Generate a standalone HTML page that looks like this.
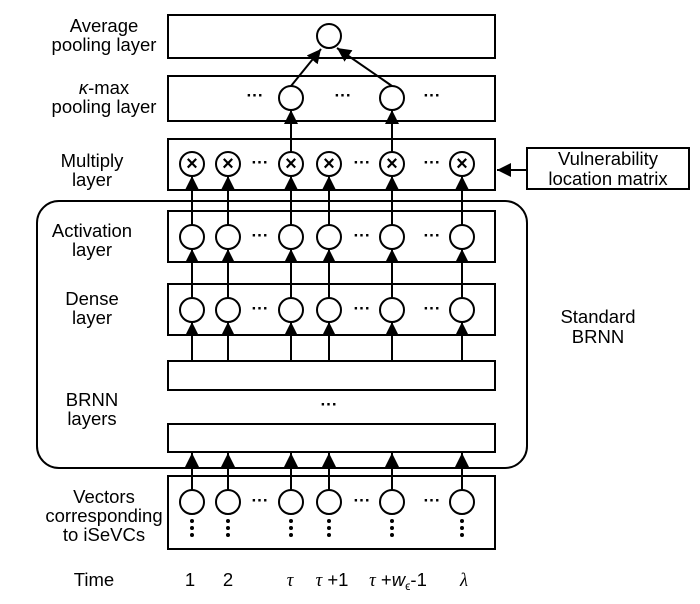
<!DOCTYPE html>
<html><head><style>body{margin:0;background:#fff}svg{display:block}</style></head><body>
<svg width="700" height="604" viewBox="0 0 700 604" xmlns="http://www.w3.org/2000/svg" font-family="Liberation Sans, DejaVu Sans, sans-serif">
<defs><marker id="a" markerWidth="14" markerHeight="14" refX="14" refY="7" orient="auto" markerUnits="userSpaceOnUse"><path d="M0,0 L14,7 L0,14 z" fill="#000"/></marker></defs>
<g fill="none" stroke="#000" stroke-width="2">
<rect x="168" y="15" width="327" height="43"/>
<rect x="168" y="76" width="327" height="45"/>
<rect x="168" y="139" width="327" height="51"/>
<rect x="168" y="211" width="327" height="51"/>
<rect x="168" y="284" width="327" height="51"/>
<rect x="168" y="361" width="327" height="29"/>
<rect x="168" y="424" width="327" height="28"/>
<rect x="168" y="476" width="327" height="73"/>
<rect x="37" y="201" width="490" height="267" rx="22"/>
<rect x="527" y="148" width="162" height="41"/>
<circle cx="329" cy="36" r="12"/>
<circle cx="291" cy="98" r="12"/><circle cx="392" cy="98" r="12"/>
<line x1="291" y1="86" x2="321" y2="49" marker-end="url(#a)"/>
<line x1="392" y1="86" x2="337" y2="48" marker-end="url(#a)"/>
<line x1="527" y1="170" x2="497" y2="170" marker-end="url(#a)"/>
</g>
<g fill="none" stroke="#000" stroke-width="2">
<g><circle cx="192" cy="164" r="12"/><circle cx="228" cy="164" r="12"/><circle cx="291" cy="164" r="12"/><circle cx="329" cy="164" r="12"/><circle cx="392" cy="164" r="12"/><circle cx="462" cy="164" r="12"/></g>
<g><circle cx="192" cy="237" r="12"/><circle cx="228" cy="237" r="12"/><circle cx="291" cy="237" r="12"/><circle cx="329" cy="237" r="12"/><circle cx="392" cy="237" r="12"/><circle cx="462" cy="237" r="12"/></g>
<g><circle cx="192" cy="310" r="12"/><circle cx="228" cy="310" r="12"/><circle cx="291" cy="310" r="12"/><circle cx="329" cy="310" r="12"/><circle cx="392" cy="310" r="12"/><circle cx="462" cy="310" r="12"/></g>
<g><circle cx="192" cy="502" r="12"/><circle cx="228" cy="502" r="12"/><circle cx="291" cy="502" r="12"/><circle cx="329" cy="502" r="12"/><circle cx="392" cy="502" r="12"/><circle cx="462" cy="502" r="12"/></g>
<line x1="291" y1="152" x2="291" y2="110" marker-end="url(#a)"/><line x1="392" y1="152" x2="392" y2="110" marker-end="url(#a)"/>
<g marker-end="url(#a)">
<line x1="192" y1="225" x2="192" y2="176"/><line x1="228" y1="225" x2="228" y2="176"/><line x1="291" y1="225" x2="291" y2="176"/><line x1="329" y1="225" x2="329" y2="176"/><line x1="392" y1="225" x2="392" y2="176"/><line x1="462" y1="225" x2="462" y2="176"/>
<line x1="192" y1="298" x2="192" y2="249"/><line x1="228" y1="298" x2="228" y2="249"/><line x1="291" y1="298" x2="291" y2="249"/><line x1="329" y1="298" x2="329" y2="249"/><line x1="392" y1="298" x2="392" y2="249"/><line x1="462" y1="298" x2="462" y2="249"/>
<line x1="192" y1="361" x2="192" y2="322"/><line x1="228" y1="361" x2="228" y2="322"/><line x1="291" y1="361" x2="291" y2="322"/><line x1="329" y1="361" x2="329" y2="322"/><line x1="392" y1="361" x2="392" y2="322"/><line x1="462" y1="361" x2="462" y2="322"/>
<line x1="192" y1="490" x2="192" y2="453"/><line x1="228" y1="490" x2="228" y2="453"/><line x1="291" y1="490" x2="291" y2="453"/><line x1="329" y1="490" x2="329" y2="453"/><line x1="392" y1="490" x2="392" y2="453"/><line x1="462" y1="490" x2="462" y2="453"/>
</g>
</g>
<g font-size="20" font-weight="bold" text-anchor="middle" dominant-baseline="central">
<text x="192" y="164">×</text><text x="228" y="164">×</text><text x="291" y="164">×</text><text x="329" y="164">×</text><text x="392" y="164">×</text><text x="462" y="164">×</text>
</g>
<g font-size="17" font-weight="bold" text-anchor="middle">
<text x="255" y="101">···</text><text x="343" y="101">···</text><text x="432" y="101">···</text>
<text x="260" y="168">···</text><text x="362" y="168">···</text><text x="432" y="168">···</text>
<text x="260" y="241">···</text><text x="362" y="241">···</text><text x="432" y="241">···</text>
<text x="260" y="314">···</text><text x="362" y="314">···</text><text x="432" y="314">···</text>
<text x="329" y="410">···</text>
<text x="260" y="506">···</text><text x="362" y="506">···</text><text x="432" y="506">···</text>
</g>
<g fill="#000">
<g id="vd"><circle cx="192" cy="521" r="2"/><circle cx="192" cy="528" r="2"/><circle cx="192" cy="535" r="2"/></g>
<use href="#vd" x="36"/><use href="#vd" x="99"/><use href="#vd" x="137"/><use href="#vd" x="200"/><use href="#vd" x="270"/>
</g>
<g font-size="18.5" text-anchor="middle" fill="#000">
<text x="104" y="32">Average</text><text x="104" y="51">pooling layer</text>
<text x="104" y="94"><tspan font-style="italic">κ</tspan>-max</text><text x="104" y="113">pooling layer</text>
<text x="92" y="167">Multiply</text><text x="92" y="186">layer</text>
<text x="92" y="237">Activation</text><text x="92" y="256">layer</text>
<text x="92" y="305">Dense</text><text x="92" y="324">layer</text>
<text x="92" y="406">BRNN</text><text x="92" y="425">layers</text>
<text x="104" y="503">Vectors</text><text x="104" y="522">corresponding</text><text x="104" y="541">to iSeVCs</text>
<text x="94" y="586">Time</text>
<text x="608" y="165">Vulnerability</text><text x="608" y="185">location matrix</text>
<text x="598" y="323">Standard</text><text x="598" y="343">BRNN</text>
<text x="190" y="586">1</text><text x="228" y="586">2</text>
<text x="290" y="586" font-style="italic" font-family="Liberation Serif, serif">τ</text>
<text x="332" y="586"><tspan font-style="italic" font-family="Liberation Serif, serif">τ</tspan> +1</text>
<text x="398" y="586"><tspan font-style="italic" font-family="Liberation Serif, serif">τ</tspan> +<tspan font-style="italic">w</tspan><tspan font-size="12" dy="4">ϵ</tspan><tspan dy="-4">-1</tspan></text>
<text x="464" y="586" font-style="italic" font-family="Liberation Serif, serif">λ</text>
</g>
</svg>
</body></html>
